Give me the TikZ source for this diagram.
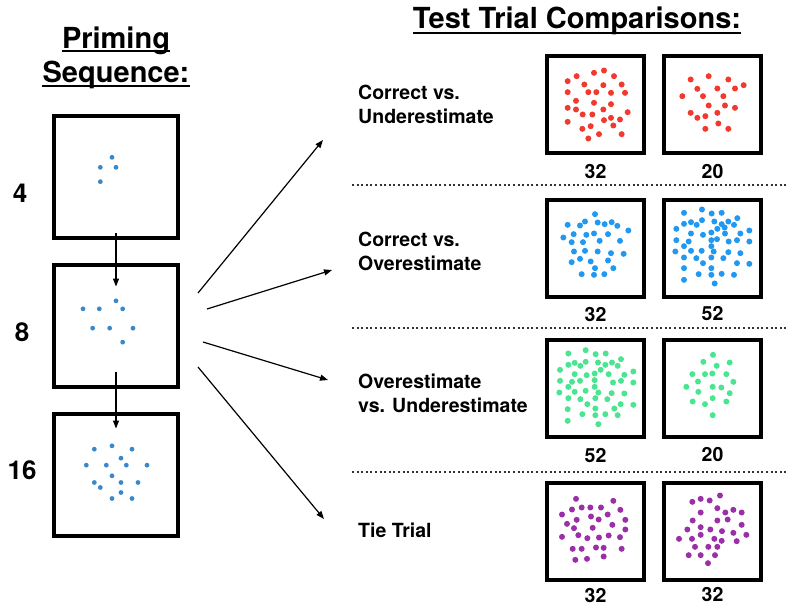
\documentclass[tikz,border=0pt]{standalone}
\usepackage{fontspec}
\setmainfont{TeX Gyre Heros}
\usetikzlibrary{arrows.meta,calc,positioning}

\definecolor{primeblue}{HTML}{3A88C8}
\definecolor{dotred}{HTML}{F2392E}
\definecolor{dotblue}{HTML}{2299F0}
\definecolor{dotgreen}{HTML}{4BE592}
\definecolor{dotpurple}{HTML}{9B2FA8}

% dots of one display: box, offset, colour, radius, points
\newcommand\dotfield[5]{%
  \begin{scope}[shift={(#1.north west)}, x=0.3333pt, y=-0.3333pt, shift={#2}]
    \foreach \p in {#5} \fill[#3] \p circle[radius=#4];
  \end{scope}}

\begin{document}
\begin{tikzpicture}[
  x=1pt, y=-1pt,
  font=\bfseries,
  head/.style={font=\fontsize{29}{34}\selectfont\bfseries, inner sep=0pt},
  uline/.style={line width=1.6pt},
  frame/.style={draw, line width=4pt, inner sep=0pt},
  pframe/.style={frame, minimum width=124pt, minimum height=122pt},
  tframe/.style={frame, minimum size=97pt},
  count/.style={font=\fontsize{19.5}{23}\selectfont\bfseries, inner sep=2pt},
  trial/.style={font=\fontsize{19.5}{23.5}\selectfont\bfseries, align=left,
    anchor=base west, inner sep=0pt},
  big/.style={font=\fontsize{26}{30}\selectfont\bfseries},
  sep/.style={black!80, dash pattern=on 2pt off 2.6pt, line width=1.6pt},
  arrow/.style={-{Triangle[length=8pt,width=6pt]}, line width=1.2pt}
]
\useasboundingbox (0,0) rectangle (789,608);

% headings
\node[head, anchor=base] (prim1) at (116,48) {Priming};
\node[head, anchor=base] (prim2) at (116,82) {Sequence:};
\node[head, anchor=base] (test) at (577,28) {Test Trial Comparisons:};
\draw[uline] ([yshift=-3pt]prim1.base west) -- ([yshift=-3pt]prim1.base east);
\draw[uline] ([yshift=-4pt]prim2.base west) -- ([yshift=-4pt]prim2.base east);
\draw[uline] ([yshift=-5pt]test.base west) -- ([yshift=-5pt]test.base east);

% priming sequence
\node[pframe] (p1) at (116,177) {};
\node[pframe] (p2) at (116,325.5) {};
\node[pframe] (p3) at (116,474.5) {};
\node[big] (n4) at (20,193) {4};
\node[big] (n8) at (22,332) {8};
\node[big] (n16) at (22,470) {16};
\draw[arrow] ($(p1.south)+(0,-7)$) -- ($(p2.north)+(0,24)$);
\draw[arrow] ($(p2.south)+(0,-17)$) -- ($(p3.north)+(0,17)$);

\dotfield{p1}{(-155,-42)}{primeblue}{2.4pt}{(335,172),(300,202),(347,202),(300,245)}
\dotfield{p2}{(-155,-38)}{primeblue}{2.4pt}{(347,153),(248,177),(297,177),(367,177),
  (277,235),(328,235),(398,235),(367,277)}
\dotfield{p3}{(-155,-32)}{primeblue}{2.4pt}{(282,145),(335,135),(395,145),(362,172),
  (258,193),(318,193),(378,193),(440,193),(335,225),(282,245),(300,260),(362,245),
  (413,245),(362,275),(335,293),(395,293)}

% test displays
\node[tframe] (r1a) at (595.5,104) {};
\node[tframe] (r1b) at (712.5,104) {};
\node[tframe] (r2a) at (595.5,248) {};
\node[tframe] (r2b) at (712.5,248) {};
\node[tframe] (r3a) at (595.5,388) {};
\node[tframe] (r3b) at (712.5,388) {};
\node[tframe] (r4a) at (595.5,531) {};
\node[tframe] (r4b) at (712.5,531) {};

\node[count, below=8pt of r1a] (c1a) {32};
\node[count, below=8pt of r1b] (c1b) {20};
\node[count, below=7pt of r2a] (c2a) {32};
\node[count, below=6pt of r2b] (c2b) {52};
\node[count, below=8pt of r3a] (c3a) {52};
\node[count, below=7pt of r3b] (c3b) {20};
\node[count, below=5pt of r4a] (c4a) {32};
\node[count, below=4pt of r4b] (c4b) {32};

\dotfield{r1a}{(-45,-42)}{dotred}{3pt}{(192,100),(222,93),(140,110),(252,110),
  (113,125),(163,135),(220,137),(275,135),(113,158),(175,158),(199,158),(243,160),
  (285,160),(138,184),(192,190),(243,194),(113,205),(138,210),(158,225),(187,225),
  (220,210),(293,218),(113,247),(222,242),(243,235),(270,240),(157,268),(182,260),
  (250,258),(175,297),(207,284),(275,284)}
\dotfield{r1b}{(-397,-42)}{dotred}{3pt}{(483,120),(537,110),(596,120),(503,148),
  (563,147),(616,147),(642,137),(458,170),(520,170),(581,170),(537,198),(586,198),
  (616,205),(483,220),(503,235),(527,230),(563,220),(527,268),(566,252),(596,268)}
\dotfield{r2a}{(-45,-38)}{dotblue}{3pt}{(195,88),(113,120),(150,122),(165,110),
  (203,113),(224,118),(245,112),(262,123),(295,137),(131,148),(169,150),(192,146),
  (234,148),(100,158),(125,172),(159,172),(209,168),(270,168),(132,200),(165,198),
  (203,200),(243,205),(281,207),(125,232),(150,222),(182,230),(234,227),(195,250),
  (250,250),(155,268),(192,270),(223,268)}
\dotfield{r2b}{(-397,-38)}{dotblue}{3pt}{(463,84),(517,74),(546,86),(576,84),
  (463,117),(484,112),(501,120),(517,106),(554,110),(576,118),(596,110),(613,120),
  (623,100),(440,132),(563,132),(585,128),(484,146),(520,150),(545,143),(586,146),
  (632,146),(659,137),(440,166),(477,170),(545,166),(562,163),(597,170),(622,166),
  (659,170),(463,184),(545,184),(484,198),(516,198),(437,200),(552,200),(596,202),
  (632,205),(463,218),(500,220),(545,218),(581,220),(520,235),(622,235),(659,237),
  (463,250),(545,250),(507,268),(545,270),(576,267),(613,270),(463,285),(555,296)}
\dotfield{r3a}{(-45,-40)}{dotgreen}{3pt}{(167,78),(115,88),(197,90),(227,88),
  (115,122),(134,116),(151,125),(167,113),(204,115),(226,122),(246,115),(263,125),
  (273,105),(90,137),(134,150),(170,153),(194,148),(212,137),(236,150),(283,152),
  (310,142),(90,170),(126,173),(150,170),(194,168),(115,188),(134,203),(167,200),
  (194,188),(205,205),(249,175),(273,170),(310,175),(88,205),(115,222),(151,225),
  (172,240),(196,222),(232,225),(245,207),(283,208),(113,255),(157,270),(196,253),
  (196,273),(226,270),(253,253),(263,273),(272,240),(310,242),(113,290),(205,300)}
\dotfield{r3b}{(-397,-40)}{dotgreen}{3pt}{(550,92),(521,113),(600,115),(561,125),
  (488,150),(526,150),(548,148),(590,150),(505,172),(611,173),(470,188),(549,188),
  (575,190),(506,203),(600,207),(549,222),(489,232),(526,240),(590,232),(549,273)}
\dotfield{r4a}{(-45,-45)}{dotpurple}{3pt}{(138,100),(250,106),(126,132),(155,126),
  (181,126),(213,126),(271,133),(96,147),(183,153),(140,163),(206,162),(233,147),
  (286,163),(111,175),(132,188),(188,187),(247,178),(286,192),(96,214),(145,209),
  (172,218),(207,216),(236,210),(270,215),(128,250),(155,250),(198,246),(221,247),
  (275,250),(136,283),(171,280),(221,273)}
\dotfield{r4b}{(-397,-45)}{dotpurple}{3pt}{(513,100),(540,105),(571,90),(488,109),
  (513,141),(563,128),(587,141),(611,133),(636,141),(489,165),(563,165),(594,162),
  (473,192),(513,185),(542,192),(636,178),(448,220),(487,220),(513,208),(554,220),
  (577,197),(576,226),(611,202),(621,227),(650,208),(496,244),(536,244),(563,244),
  (477,269),(513,269),(556,269),(535,293)}

% trial labels and separators
\node[trial] (t1) at (358,123) {Correct vs.\\Underestimate};
\node[trial] (t2) at (358,270) {Correct vs.\\Overestimate};
\node[trial] (t3) at (358,412) {Overestimate\\vs. Underestimate};
\node[trial] (t4) at (358,537) {Tie Trial};
\draw[sep] (352,185) -- (789,185);
\draw[sep] (352,328) -- (789,328);
\draw[sep] (352,472) -- (789,472);

% fan of arrows
\coordinate (f1) at (198,293);
\coordinate (f2) at (207,309);
\coordinate (f3) at (203,342);
\coordinate (f4) at (198,367);
\coordinate (e1) at (323,140);
\coordinate (e2) at (332,270);
\coordinate (e3) at (328,380);
\coordinate (e4) at (324,519);
\draw[arrow] (f1) -- (e1);
\draw[arrow] (f2) -- (e2);
\draw[arrow] (f3) -- (e3);
\draw[arrow] (f4) -- (e4);
\end{tikzpicture}
\end{document}
